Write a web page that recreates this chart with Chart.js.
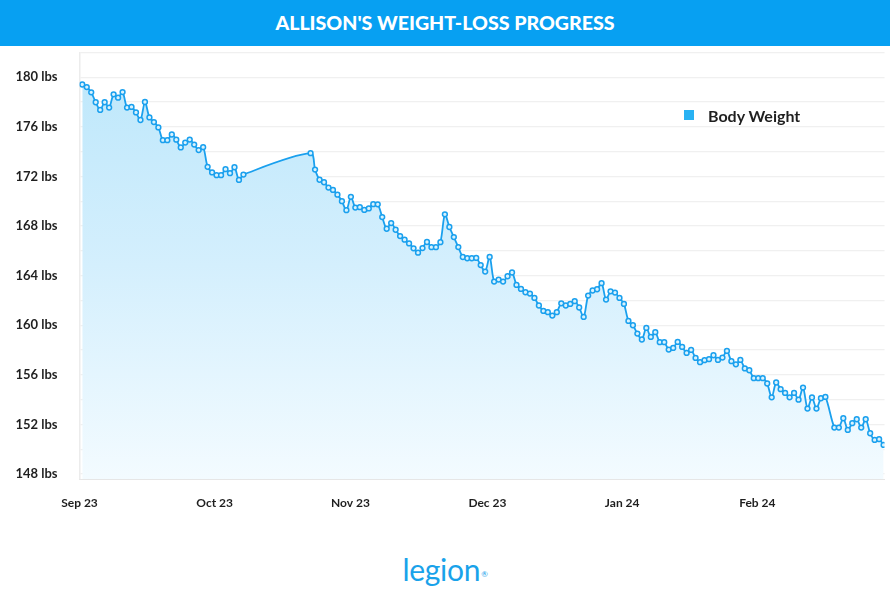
<!DOCTYPE html>
<html>
<head>
<meta charset="utf-8">
<script src="https://cdn.jsdelivr.net/npm/chart.js@4.4.1/dist/chart.umd.min.js"></script>
<style>
  html, body { margin: 0; padding: 0; background: #fff; }
  body { width: 890px; height: 605px; position: relative; overflow: hidden; font-family: Lato, sans-serif; }
  #banner {
    position: absolute; left: 0; top: 0; width: 890px; height: 46px;
    background: #07a0f2; color: #fff; font-weight: 900; font-size: 19.6px;
    line-height: 46px; text-align: center;
  }
  #wrap { position: absolute; left: 0; top: 46px; width: 890px; height: 500px; }
  #legend { position: absolute; left: 684px; top: 105px; height: 20px; display: flex; align-items: center; }
  #legend .box { width: 10px; height: 10px; background: #29b2f3; margin-right: 14px; }
  #legend .txt { font-weight: 700; font-size: 16px; color: #1f1f1f; }
  #logo {
    position: absolute; left: 0; width: 890px; top: 551px; text-align: center;
    color: #19a2ea; font-size: 30px; font-weight: 400; letter-spacing: -0.3px;
  }
  #logo sup { font-size: 8px; vertical-align: 4px; margin-left: 1px; }
</style>
</head>
<body>
<div id="banner">ALLISON'S WEIGHT-LOSS PROGRESS</div>
<div id="wrap"><canvas id="chart" width="890" height="500"></canvas></div>
<div id="legend"><span class="box"></span><span class="txt">Body Weight</span></div>
<div id="logo">legion<sup>®</sup></div>

<script>
// ============ DATOS ============
const seriesName = 'Body Weight';

// dia de medicion (0 = primer dia)
const days = [
  0, 1, 2, 3, 4, 5, 6, 7, 8, 9,
  10, 11, 12, 13, 14, 15, 16, 17, 18, 19,
  20, 21, 22, 23, 24, 25, 26, 27, 28, 29,
  30, 31, 32, 33, 34, 35, 36,
  51, 52, 53, 54, 55, 56, 57, 58, 59, 60,
  61, 62, 63, 64, 65, 66, 67, 68, 69, 70,
  71, 72, 73, 74, 75, 76, 77, 78, 79, 80,
  81, 82, 83, 84, 85, 86, 87, 88, 89, 90,
  91, 92, 93, 94, 95, 96, 97, 98, 99, 100,
  101, 102, 103, 104, 105, 106, 107, 108, 109, 110,
  111, 112, 113, 114, 115, 116, 117, 118, 119, 120,
  121, 122, 123, 124, 125, 126, 127, 128, 129, 130,
  131, 132, 133, 134, 135, 136, 137, 138, 139, 140,
  141, 142, 143, 144, 145, 146, 147, 148, 149, 150,
  151, 152, 153, 154, 155, 156, 157, 158, 159, 160,
  161, 162, 163, 164, 165, 166,
  168, 169, 170, 171, 172, 173, 174, 175, 176, 177, 178, 179
];

// peso (lbs)
const weights = [
  179.41, 179.2, 178.78, 177.98, 177.36, 177.98, 177.55, 178.62, 178.35, 178.8,
  177.55, 177.6, 177.16, 176.55, 178.0, 176.76, 176.38, 175.95, 174.92, 174.92,
  175.38, 174.96, 174.34, 174.73, 174.97, 174.57, 174.12, 174.36, 172.77, 172.32,
  172.1, 172.1, 172.58, 172.26, 172.74, 171.72, 172.15,
  173.87, 172.55, 171.73, 171.53, 171.1, 170.91, 170.53, 170.0, 169.28, 170.35,
  169.49, 169.52, 169.3, 169.42, 169.76, 169.75, 168.72, 167.78, 168.24, 167.7,
  167.19, 166.9, 166.6, 166.2, 165.85, 166.22, 166.71, 166.29, 166.29, 166.7,
  168.94, 167.92, 167.11, 166.3, 165.5, 165.4, 165.4, 165.43, 164.85, 164.33,
  165.51, 163.52, 163.68, 163.52, 163.95, 164.25, 163.25, 162.93, 162.66, 162.55,
  162.2, 161.59, 161.15, 161.05, 160.78, 161.05, 161.77, 161.59, 161.72, 161.94,
  161.43, 160.67, 162.39, 162.8, 162.9, 163.39, 162.07, 162.73, 162.63, 162.2,
  161.72, 160.35, 160.0, 159.33, 158.85, 159.78, 159.06, 159.44, 158.63, 158.63,
  158.04, 158.17, 158.65, 158.25, 157.77, 158.01, 157.36, 157.02, 157.18, 157.26,
  157.58, 157.2, 157.39, 157.93, 157.1, 156.85, 157.2, 156.52, 156.37, 155.73,
  155.73, 155.73, 155.3, 154.19, 155.38, 154.84, 154.54, 154.19, 154.54, 154.0,
  154.97, 153.28, 154.17, 153.28, 154.11, 154.22,
  151.75, 151.75, 152.5, 151.56, 152.1, 152.42, 151.75, 152.42, 151.29, 150.75, 150.81, 150.35
];

// etiquetas del eje x y su posicion (en dias)
const monthLabels = ['Sep 23', 'Oct 23', 'Nov 23', 'Dec 23', 'Jan 24', 'Feb 24'];
const monthTicks = [-0.62, 29.56, 59.9, 90.5, 120.6, 150.8];

// eje y
const yTicks = [148, 150, 152, 154, 156, 158, 160, 162, 164, 166, 168, 170, 172, 174, 176, 178, 180, 182];
const yLabelEvery = 4;

// ============ GRAFICO ============
const ctx = document.getElementById('chart').getContext('2d');

const fillGradient = c => {
  const area = c.chart.chartArea;
  if (!area) return 'rgba(190,232,251,0.6)';
  const g = c.chart.ctx.createLinearGradient(0, area.top, 0, area.bottom);
  g.addColorStop(0, '#bce7fb');
  g.addColorStop(0.5, '#d4effd');
  g.addColorStop(1, '#f3fbff');
  return g;
};

const chart = new Chart(ctx, {
  type: 'line',
  data: {
    datasets: [{
      label: seriesName,
      data: days.map((d, i) => ({ x: d, y: weights[i] })),
      borderColor: '#1aa0ee',
      borderWidth: 1.8,
      tension: 0.3,
      fill: 'start',
      backgroundColor: fillGradient,
      pointRadius: 2.4,
      pointBorderWidth: 1.5,
      pointBorderColor: '#1aa0ee',
      pointBackgroundColor: '#d9f2fd'
    }]
  },
  options: {
    responsive: false,
    animation: false,
    devicePixelRatio: 1,
    layout: { padding: { top: 6.4, right: 1.8, bottom: 27, left: 0 } },
    plugins: {
      legend: { display: false },
      tooltip: { enabled: false }
    },
    scales: {
      x: {
        type: 'linear',
        min: -0.62,
        max: 179.2,
        afterBuildTicks: s => { s.ticks = monthTicks.map(v => ({ value: v })); },
        afterFit: s => { s.height = 40; s.paddingLeft = 0; s.paddingRight = 0; },
        grid: { display: false, drawTicks: false },
        border: { display: true, color: '#e6e6e6', width: 1 },
        ticks: {
          autoSkip: false,
          maxRotation: 0,
          padding: 17,
          color: '#1f1f1f',
          font: { family: 'Lato', size: 12, weight: 'bold' },
          callback: (v, i) => monthLabels[i]
        }
      },
      y: {
        min: 147.6,
        max: 182,
        afterBuildTicks: s => { s.ticks = yTicks.map(v => ({ value: v })); },
        afterFit: s => { s.width = 79.5; s.paddingTop = 0; s.paddingBottom = 0; },
        grid: { color: '#f0f0f0', lineWidth: 1.2, drawTicks: false },
        border: { display: true, color: '#ececec', width: 1.5 },
        ticks: {
          padding: 22,
          color: '#1f1f1f',
          font: { family: 'Lato', size: 13, weight: 'bold' },
          callback: v => (v % yLabelEvery === 0 ? v + ' lbs' : '')
        }
      }
    }
  }
});
</script>
</body>
</html>
